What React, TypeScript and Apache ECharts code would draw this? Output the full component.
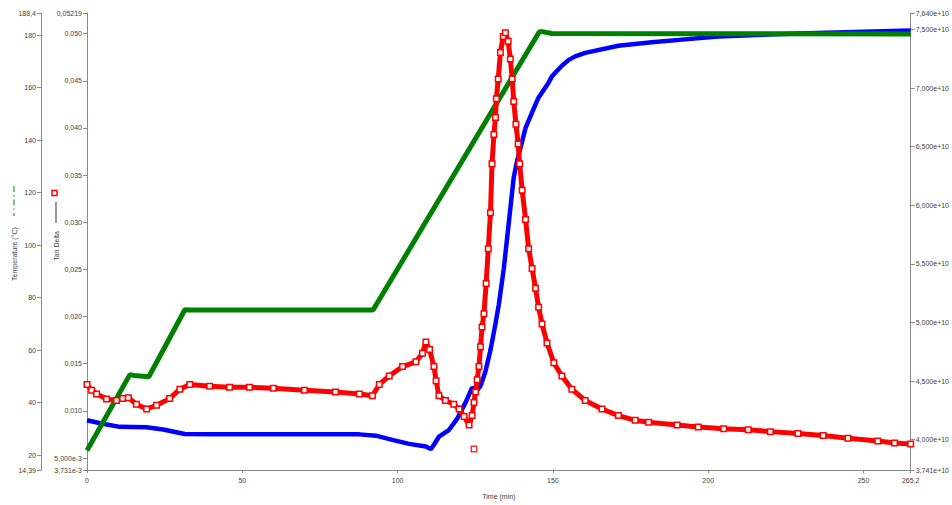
import React, { useEffect, useRef } from "react";
import * as echarts from "echarts";

// ---- Temperature (°C), green ----
const tempTime = [0, 13.8, 15, 19.9, 31.5, 33, 60, 92.1, 145.4, 146, 149.7, 200, 265.2];
const tempC = [21.8, 50.7, 50.4, 49.9, 75.4, 75.3, 75.3, 75.3, 180.8, 181.4, 180.6, 180.5, 180.4];

// ---- Tan Delta, red ----
const deltaTime = [
  0, 1.5, 3.1, 6.3, 9.5, 11.5, 13.3, 15.9, 19.2, 22.4, 26.6, 29.9, 33.1, 39.5, 45.9, 52.3, 60, 70, 80,
  87.7, 91.9, 94.1, 97.3, 101.6, 105.9, 108, 109.1, 110.3, 111.7, 112.4, 113.3, 115.4, 118.1, 119.8,
  121.4, 123, 124, 124.6, 125.1, 125.6, 126.2, 126.7, 127.2, 127.8, 128.5, 129.2, 129.9, 130.4, 131,
  131.5, 131.8, 132.4, 133.1, 134, 134.7, 135.6, 136.3, 136.9, 137.4, 138.1, 138.8, 139.3, 140.1, 141.2,
  142.2, 143.3, 144.4, 145.4, 146.5, 148.1, 150.3, 152.9, 156.1, 160.4, 165.8, 171.1, 176.5, 180.8, 190,
  196.8, 205, 212.9, 220, 228.9, 237, 245, 254.6, 260, 265.2,
];
const tanDelta = [
  0.0128, 0.0122, 0.0118, 0.01125, 0.0111, 0.0113, 0.0114, 0.0107, 0.0102, 0.0106, 0.0113, 0.0123, 0.0128,
  0.0126, 0.0125, 0.0125, 0.0124, 0.0122, 0.012, 0.0118, 0.0116, 0.0128, 0.0137, 0.0147, 0.0152, 0.0161,
  0.0173, 0.0165, 0.0147, 0.0132, 0.0116, 0.0111, 0.0107, 0.0102, 0.0094, 0.0085, 0.0095, 0.0109, 0.012,
  0.0133, 0.0147, 0.0168, 0.0189, 0.0203, 0.0235, 0.0272, 0.031, 0.0362, 0.0393, 0.0411, 0.0431, 0.0452,
  0.048, 0.0497, 0.0501, 0.0492, 0.0473, 0.0452, 0.0428, 0.0404, 0.0383, 0.0362, 0.0334, 0.0303, 0.0272,
  0.0251, 0.023, 0.021, 0.0192, 0.0172, 0.0151, 0.0137, 0.0123, 0.0111, 0.0102, 0.0095, 0.009, 0.0088,
  0.0085, 0.0083, 0.0081, 0.008, 0.0078, 0.0076, 0.0074, 0.0071, 0.0068, 0.0066, 0.0065,
];
const outlierTime = [124.6];
const outlierDelta = [0.00595];

// ---- Modulus (×1e10), blue ----
const modTime = [
  0, 5, 10.6, 19.2, 24.5, 31.5, 40, 52.3, 70, 87.7, 93, 98.3, 103.7, 109.1, 110.7, 111.7, 113.3, 116.5,
  119.2, 121.9, 124, 125.6, 126.7, 128.3, 129.9, 131.5, 132.6, 134.2, 135.8, 137.4, 138.5, 141.2, 144.4,
  145.4, 148.7, 149.7, 152.9, 155.1, 157.2, 160.4, 171.1, 181.8, 192.5, 203.2, 229, 250, 265.2,
];
const modulusE10 = [
  4.165, 4.135, 4.109, 4.105, 4.087, 4.048, 4.045, 4.045, 4.045, 4.045, 4.034, 3.998, 3.964, 3.942, 3.919,
  3.956, 4.025, 4.082, 4.179, 4.318, 4.444, 4.42, 4.458, 4.584, 4.764, 4.988, 5.155, 5.462, 5.85, 6.24,
  6.38, 6.66, 6.86, 6.92, 7.05, 7.1, 7.19, 7.24, 7.27, 7.3, 7.36, 7.39, 7.415, 7.44, 7.465, 7.48, 7.49,
];

// ---- Ticks ----
const xTicks = [0, 50, 100, 150, 200, 250, 265.2];
const xTickLabels = ["0", "50", "100", "150", "200", "250", "265,2"];
const tempTicks = [14.39, 20, 40, 60, 80, 100, 120, 140, 160, 180, 188.4];
const tempTickLabels = ["14,39", "20", "40", "60", "80", "100", "120", "140", "160", "180", "188,4"];
const deltaTicks = [0.003731, 0.005, 0.01, 0.015, 0.02, 0.025, 0.03, 0.035, 0.04, 0.045, 0.05, 0.05219];
const deltaTickLabels = [
  "3,731e-3", "5,000e-3", "0,010", "0,015", "0,020", "0,025", "0,030", "0,035", "0,040", "0,045", "0,050", "0,05219",
];
const modTicks = [3.741, 4.0, 4.5, 5.0, 5.5, 6.0, 6.5, 7.0, 7.5, 7.64];
const modTickLabels = [
  "3,741e+10", "4,000e+10", "4,500e+10", "5,000e+10", "5,500e+10", "6,000e+10", "6,500e+10", "7,000e+10",
  "7,500e+10", "7,640e+10",
];

const FONT = "Liberation Sans";
const FS = 7;
const TXT = "#404040";
const AXIS = "#8a8a8a";

const zip = (a: number[], b: number[]) => a.map((v, i) => [v, b[i]]);
const labeler = (ticks: number[], labels: string[]) => (v: number) => {
  let best = 0;
  for (let i = 1; i < ticks.length; i++) if (Math.abs(ticks[i] - v) < Math.abs(ticks[best] - v)) best = i;
  return labels[best];
};

const yAxisBase = (ticks: number[], labels: string[]) => ({
  type: "value",
  min: ticks[0],
  max: ticks[ticks.length - 1],
  splitLine: { show: false },
  axisLine: { show: true, onZero: false, lineStyle: { color: AXIS, width: 1 } },
  axisTick: { show: true, length: 4, customValues: ticks, lineStyle: { color: AXIS } },
  axisLabel: {
    show: true,
    customValues: ticks,
    formatter: labeler(ticks, labels),
    fontFamily: FONT,
    fontSize: FS,
    color: TXT,
    margin: 5,
  },
});

export default function App() {
  const ref = useRef<HTMLDivElement>(null);
  useEffect(() => {
    if (!ref.current) return;
    const chart = echarts.init(ref.current, null, { renderer: "svg" });
    const redSymbol = {
      symbol: "rect",
      symbolSize: 5.5,
      itemStyle: { color: "#ffffff", borderColor: "#ff0000", borderWidth: 1.5 },
    };
    chart.setOption({
      animation: false,
      backgroundColor: "#ffffff",
      grid: { left: 87, right: 39, top: 13, bottom: 26, containLabel: false },
      xAxis: {
        type: "value",
        min: 0,
        max: 265.2,
        name: "Time (min)",
        nameLocation: "middle",
        nameGap: 23,
        nameTextStyle: { fontFamily: FONT, fontSize: FS, color: TXT },
        splitLine: { show: false },
        axisLine: { show: true, onZero: false, lineStyle: { color: AXIS, width: 1 } },
        axisTick: { show: true, length: 3, customValues: xTicks, lineStyle: { color: AXIS } },
        axisLabel: {
          customValues: xTicks,
          formatter: labeler(xTicks, xTickLabels),
          fontFamily: FONT,
          fontSize: FS,
          color: TXT,
          margin: 7,
        },
      },
      yAxis: [
        { ...yAxisBase(tempTicks, tempTickLabels), position: "left", offset: 46 },
        { ...yAxisBase(deltaTicks, deltaTickLabels), position: "left", offset: 0 },
        { ...yAxisBase(modTicks, modTickLabels), position: "right", offset: 0 },
      ],
      series: [
        {
          name: "Modulus",
          type: "line",
          yAxisIndex: 2,
          data: zip(modTime, modulusE10),
          showSymbol: false,
          lineStyle: { color: "#0000ff", width: 4.5 },
          z: 2,
          silent: true,
        },
        {
          name: "Temperature",
          type: "line",
          yAxisIndex: 0,
          data: zip(tempTime, tempC),
          showSymbol: false,
          lineStyle: { color: "#008000", width: 5 },
          z: 3,
          silent: true,
        },
        {
          name: "Tan Delta",
          type: "line",
          yAxisIndex: 1,
          data: zip(deltaTime, tanDelta),
          showSymbol: true,
          showAllSymbol: true,
          ...redSymbol,
          lineStyle: { color: "#ff0000", width: 5 },
          z: 4,
          silent: true,
        },
        {
          name: "Tan Delta outlier",
          type: "scatter",
          yAxisIndex: 1,
          data: zip(outlierTime, outlierDelta),
          ...redSymbol,
          z: 4,
          silent: true,
        },
      ],
      graphic: [
        {
          type: "text",
          x: 14,
          y: 254,
          rotation: Math.PI / 2,
          style: {
            text: "Temperature (°C)",
            font: `${FS}px "${FONT}"`,
            fill: TXT,
            align: "center",
            verticalAlign: "middle",
          },
        },
        {
          type: "line",
          shape: { x1: 14, y1: 186, x2: 14, y2: 216 },
          style: { stroke: "#008000", lineWidth: 1, lineDash: [6, 3, 1.5, 3] },
        },
        {
          type: "text",
          x: 56,
          y: 246,
          rotation: Math.PI / 2,
          style: {
            text: "Tan Delta",
            font: `${FS}px "${FONT}"`,
            fill: TXT,
            align: "center",
            verticalAlign: "middle",
          },
        },
        {
          type: "line",
          shape: { x1: 56, y1: 202, x2: 56, y2: 223 },
          style: { stroke: "#333333", lineWidth: 1 },
        },
        {
          type: "rect",
          shape: { x: 52, y: 190.5, width: 5, height: 5 },
          style: { stroke: "#ff0000", fill: "#ffffff", lineWidth: 1.5 },
        },
      ],
    });
    return () => chart.dispose();
  }, []);
  return (
    <div
      ref={ref}
      style={{ position: "fixed", left: 0, top: 0, width: 952, height: 505 }}
    />
  );
}
